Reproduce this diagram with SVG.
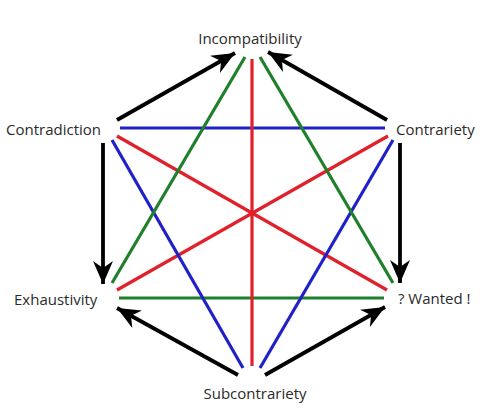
<svg xmlns="http://www.w3.org/2000/svg" width="486" height="417" viewBox="0 0 486 417">
<defs>
<style>
.lbl{font-family:"Open Sans","Noto Sans","Liberation Sans",sans-serif;font-size:15px;fill:#2a2a2a}
.b{stroke:#2020c8;stroke-width:3.2;fill:none}
.r{stroke:#e0202a;stroke-width:3.2;fill:none}
.g{stroke:#1f7f2a;stroke-width:3.2;fill:none}
.k{stroke:#000;stroke-width:3.8;fill:none;marker-end:url(#ah)}
</style>
<marker id="ah" markerUnits="userSpaceOnUse" viewBox="-24 -11 26 22" refX="0" refY="0" markerWidth="26" markerHeight="22" orient="auto">
<path d="M0,0 L-23,-10 L-16,0 L-23,10 Z" fill="#000"/>
</marker>
</defs>
<rect width="486" height="417" fill="#fff"/>
<g id="connectors">
<line class="b" x1="120" y1="128" x2="385" y2="128"/>
<line class="g" x1="119" y1="298" x2="384" y2="298"/>
<line class="r" x1="252" y1="59" x2="252" y2="366"/>
<line class="r" x1="117" y1="136" x2="387" y2="290"/>
<line class="r" x1="388" y1="136" x2="117" y2="290"/>
<line class="b" x1="112" y1="140" x2="243" y2="368"/>
<line class="b" x1="393" y1="140" x2="260" y2="368"/>
<line class="g" x1="245" y1="57" x2="112" y2="283"/>
<line class="g" x1="260" y1="57" x2="393" y2="283"/>
<line class="k" x1="117" y1="120" x2="235" y2="53"/>
<line class="k" x1="387" y1="120" x2="268" y2="52"/>
<line class="k" x1="103" y1="143" x2="103" y2="284"/>
<line class="k" x1="400" y1="143" x2="400" y2="283"/>
<line class="k" x1="238" y1="375" x2="117" y2="308"/>
<line class="k" x1="265" y1="375" x2="385" y2="307"/>
</g>
<g id="incompatibility"><text class="lbl" x="250" y="44" text-anchor="middle">Incompatibility</text></g>
<g id="contradiction"><text class="lbl" x="6" y="135">Contradiction</text></g>
<g id="contrariety"><text class="lbl" x="396" y="135">Contrariety</text></g>
<g id="exhaustivity"><text class="lbl" x="14" y="305">Exhaustivity</text></g>
<g id="wanted"><text class="lbl" x="398" y="304">? Wanted !</text></g>
<g id="subcontrariety"><text class="lbl" x="255" y="399" text-anchor="middle">Subcontrariety</text></g>
</svg>
